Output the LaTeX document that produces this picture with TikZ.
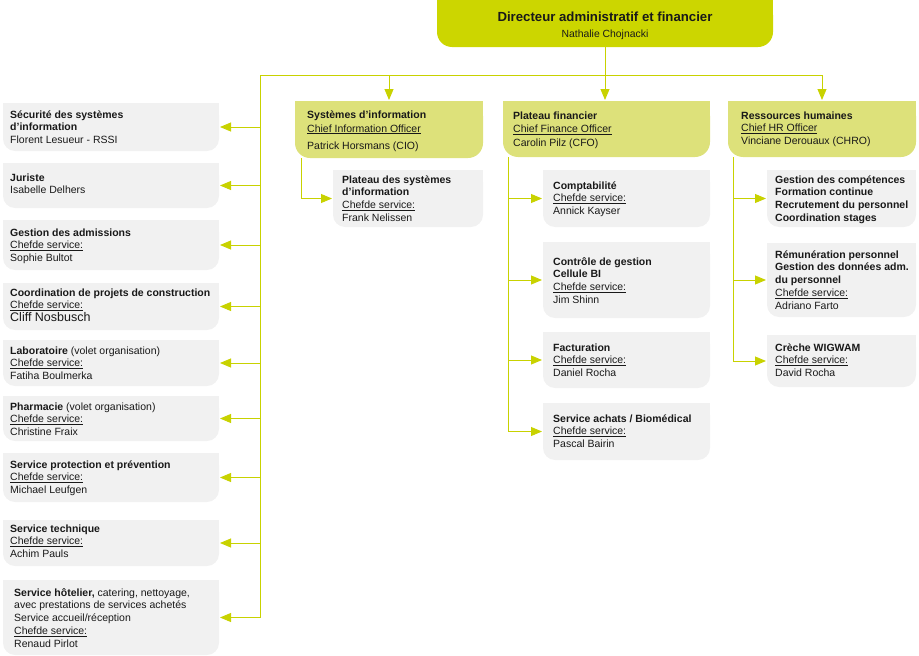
\documentclass[tikz,border=0pt]{standalone}
\usepackage{fontspec}
\setmainfont{Liberation Sans}
\usetikzlibrary{arrows.meta}
\definecolor{limec}{RGB}{204,214,0}
\definecolor{olivec}{RGB}{221,225,122}
\definecolor{boxgray}{RGB}{241,241,241}
\definecolor{linecol}{RGB}{200,210,0}
\definecolor{txtc}{RGB}{25,25,25}
\tikzset{
  conn/.style={draw=linecol, line width=0.9pt},
  arr/.style={conn, -{Triangle[length=11pt,width=9pt]}, shorten >=1pt},
  lbl/.style={anchor=base west, inner sep=0, text=txtc, font=\fontsize{10.5}{12.8}\selectfont},
  hlbl/.style={lbl, font=\fontsize{10.5}{13.5}\selectfont},
}
\newcommand\obox[7][12]{%
  \node[name=#2, anchor=north west, inner sep=0, outer sep=0,
        minimum width={(#5-#3)*1pt}, minimum height={(#6-#4)*1pt},
        fill=#7, rounded corners=#1pt] at (#3,#4) {};
  \fill[#7] (#3,#4) rectangle (#5,{#4+#1+2});
}
\newcommand\tb[1]{\begin{tabular}[t]{@{}l@{}}#1\end{tabular}}
\newcommand\cds{\underline{Chefde service:}}
\begin{document}
\begin{tikzpicture}[x=1pt,y=-1pt]
\useasboundingbox (0,0) rectangle (919,656);
% top
\obox[15]{dir}{437}{0}{773}{47}{limec}
\node[anchor=base, inner sep=0, text=txtc, font=\fontsize{13.2}{15}\selectfont\bfseries] (dirT) at (605,21) {Directeur administratif et financier};
\node[anchor=base, inner sep=0, text=txtc, font=\fontsize{10.4}{12}\selectfont] (dirN) at (605,37) {Nathalie Chojnacki};
% left column
\obox{l1}{3}{103}{219}{151}{boxgray}
\obox{l2}{3}{163}{219}{208}{boxgray}
\obox{l3}{3}{220}{219}{270}{boxgray}
\obox{l4}{3}{283}{219}{330}{boxgray}
\obox{l5}{3}{340}{219}{386}{boxgray}
\obox{l6}{3}{396}{219}{441}{boxgray}
\obox{l7}{3}{453}{219}{502}{boxgray}
\obox{l8}{3}{520}{219}{566}{boxgray}
\obox{l9}{3}{580}{219}{655}{boxgray}
\node[lbl] (t1) at (10,118) {\tb{\textbf{Sécurité des systèmes}\\\textbf{d'information}\\Florent Lesueur - RSSI}};
\node[lbl] (t2) at (10,181) {\tb{\textbf{Juriste}\\Isabelle Delhers}};
\node[lbl] (t3) at (10,236) {\tb{\textbf{Gestion des admissions}\\\cds\\Sophie Bultot}};
\node[lbl] (t4) at (10,296) {\tb{\textbf{Coordination de projets de construction}\\\cds\\{\fontsize{12.5}{13}\selectfont Cliff Nosbusch}}};
\node[lbl] (t5) at (10,354) {\tb{\textbf{Laboratoire} (volet organisation)\\\cds\\Fatiha Boulmerka}};
\node[lbl] (t6) at (10,410) {\tb{\textbf{Pharmacie} (volet organisation)\\\cds\\Christine Fraix}};
\node[lbl] (t7) at (10,468) {\tb{\textbf{Service protection et prévention}\\\cds\\Michael Leufgen}};
\node[lbl] (t8) at (10,532) {\tb{\textbf{Service technique}\\\cds\\Achim Pauls}};
\node[lbl] (t9) at (14,596) {\tb{\textbf{Service hôtelier,} catering, nettoyage,\\avec prestations de services achetés\\Service accueil/réception\\\cds\\Renaud Pirlot}};
% middle headers
\obox[15]{sys}{295}{101}{483}{158}{olivec}
\obox[15]{fin}{503}{101}{710}{157}{olivec}
\obox[15]{rh}{728}{101}{916}{157}{olivec}
\node[lbl] (tsys) at (307,118) {\tb{\textbf{Systèmes d'information}\\[1.2pt]\underline{Chief Information Officer}\\[5pt]Patrick Horsmans (CIO)}};
\node[hlbl] (tfin) at (513,119) {\tb{\textbf{Plateau financier}\\\underline{Chief Finance Officer}\\Carolin Pilz (CFO)}};
\node[lbl] (trh) at (741,119) {\tb{\textbf{Ressources humaines}\\\underline{Chief HR Officer}\\Vinciane Derouaux (CHRO)}};
% sub boxes
\obox{psys}{333}{170}{483}{227}{boxgray}
\obox{comp}{543}{170}{710}{227}{boxgray}
\obox{ctrl}{543}{242}{710}{318}{boxgray}
\obox{fact}{543}{332}{710}{388}{boxgray}
\obox{ach}{543}{403}{710}{460}{boxgray}
\obox{gc}{767}{170}{916}{227}{boxgray}
\obox{rem}{767}{243}{916}{317}{boxgray}
\obox{cre}{767}{335}{916}{387}{boxgray}
\node[lbl] (tpsys) at (342,183) {\tb{\textbf{Plateau des systèmes}\\\textbf{d'information}\\\cds\\Frank Nelissen}};
\node[lbl] (tcomp) at (553,189) {\tb{\textbf{Comptabilité}\\\cds\\Annick Kayser}};
\node[lbl] (tctrl) at (553,265) {\tb{\textbf{Contrôle de gestion}\\\textbf{Cellule BI}\\\cds\\Jim Shinn}};
\node[lbl] (tfact) at (553,351) {\tb{\textbf{Facturation}\\\cds\\Daniel Rocha}};
\node[lbl] (tach) at (553,422) {\tb{\textbf{Service achats / Biomédical}\\\cds\\Pascal Bairin}};
\node[lbl] (tgc) at (775,183) {\tb{\textbf{Gestion des compétences}\\\textbf{Formation continue}\\\textbf{Recrutement du personnel}\\\textbf{Coordination stages}}};
\node[lbl] (trem) at (775,258) {\tb{\textbf{Rémunération personnel}\\\textbf{Gestion des données adm.}\\\textbf{du personnel}\\\cds\\Adriano Farto}};
\node[lbl] (tcre) at (775,351) {\tb{\textbf{Crèche WIGWAM}\\\cds\\David Rocha}};
% connectors
\coordinate (hubL) at (260,75);
\coordinate (hubR) at (rh.north |- hubL);
\draw[conn] (hubL) -- (hubR);
\draw[arr] (dir.south) -- (dir.south |- fin.north);
\draw[arr] (sys.north |- hubL) -- (sys.north);
\draw[arr] (hubR) -- (rh.north);
\draw[conn] (hubL) -- (hubL |- l9.east);
\foreach \b in {l1,l2,l3,l4,l5,l6,l7,l8,l9}{\draw[arr] (hubL |- \b.east) -- (\b.east);}
\coordinate (sysT) at (301,158);
\draw[arr] (sysT) |- (psys.west);
\coordinate (finT) at (508,157);
\draw[conn] (finT) -- (finT |- ach.west);
\foreach \b in {comp,ctrl,fact,ach}{\draw[arr] (finT |- \b.west) -- (\b.west);}
\coordinate (rhT) at (733,157);
\draw[conn] (rhT) -- (rhT |- cre.west);
\foreach \b in {gc,rem,cre}{\draw[arr] (rhT |- \b.west) -- (\b.west);}
\end{tikzpicture}
\end{document}
